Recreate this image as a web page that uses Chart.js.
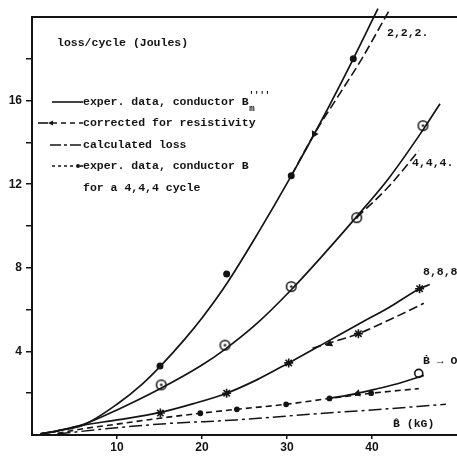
<!DOCTYPE html>
<html><head><meta charset="utf-8">
<script src="https://cdn.jsdelivr.net/npm/chart.js@4/dist/chart.umd.min.js"></script>
<style>html,body{margin:0;padding:0;background:#fff;}#wrap{width:457px;height:456px;}</style>
</head><body><div id="wrap"><canvas id="c" width="457" height="456"></canvas></div>
<script>
// ---- axis ticks ----
const xTickLabels = [10, 20, 30, 40];
const yTickLabels = [4, 8, 12, 16];
// ---- 2,2,2 cycle ----
const c222X = [1, 3, 6, 10, 13, 15, 18, 20, 23, 26.5, 30.5, 34, 37.8, 40.7];
const c222Y = [0.05, 0.2, 0.47, 1.47, 2.45, 3.25, 4.6, 5.6, 7.3, 9.6, 12.4, 15.0, 18.0, 20.4];
const c222PtsX = [15.06, 22.9, 30.5, 37.8];
const c222PtsY = [3.3, 7.7, 12.4, 18.0];
const c222CorrX = [30.5, 33.2, 36, 38.8, 42];
const c222CorrY = [12.4, 14.4, 16.2, 18.0, 20.3];
// ---- 4,4,4 cycle ----
const c444X = [1, 3, 6, 10, 15, 20, 22.7, 26.5, 30.5, 34, 38.2, 42, 46, 48];
const c444Y = [0.05, 0.2, 0.5, 1.2, 2.2, 3.35, 4.1, 5.35, 6.95, 8.5, 10.45, 12.3, 14.6, 15.85];
const c444PtsX = [15.2, 22.7, 30.5, 38.2, 46];
const c444PtsY = [2.4, 4.3, 7.1, 10.4, 14.8];
const c444CorrX = [38.2, 42, 45.5];
const c444CorrY = [10.4, 11.9, 13.6];
// ---- 8,8,8 cycle ----
const c888X = [1, 3, 6, 10, 15.1, 19, 22.9, 26.5, 30.2, 34, 38.4, 42, 45.6, 46.8];
const c888Y = [0.05, 0.2, 0.47, 0.72, 1.08, 1.5, 2.0, 2.65, 3.45, 4.3, 5.3, 6.1, 7.0, 7.2];
const c888PtsX = [15.1, 22.9, 30.2, 38.4, 45.6];
const c888PtsY = [1.05, 2.0, 3.45, 4.85, 7.0];
const c888CorrX = [33, 35, 38.4, 42, 46.1];
const c888CorrY = [4.15, 4.4, 4.85, 5.5, 6.3];
// ---- exper. data, conductor B, 4,4,4 cycle ----
const expBX = [3, 6, 10, 15, 19.8, 24.1, 29.9, 35, 40, 45.5];
const expBY = [0.08, 0.3, 0.52, 0.8, 1.04, 1.23, 1.47, 1.75, 2.0, 2.22];
const expBPtsX = [19.8, 24.1, 29.9, 35, 39.9];
const expBPtsY = [1.04, 1.23, 1.47, 1.75, 2.0];
// ---- B-dot -> 0 ----
const bdotX = [35, 38, 40.5, 43, 46.1];
const bdotY = [1.75, 1.97, 2.2, 2.45, 2.85];
const bdotPtX = [45.5];
const bdotPtY = [2.95];
// ---- calculated loss ----
const calcX = [3, 10, 16, 24, 33, 40, 48.7];
const calcY = [0.05, 0.35, 0.55, 0.72, 1.0, 1.2, 1.47];
// ---- "corrected" arrow marks ----
const arrowX = [33.2, 35, 38.3];
const arrowY = [14.4, 4.36, 1.99];
// ---- texts ----
const yTitle = 'loss/cycle (Joules)';
const xTitle = 'B\u0302 (kG)';
const legendTexts = ['exper. data, conductor B', 'corrected for resistivity', 'calculated loss', 'exper. data, conductor B', 'for a 4,4,4 cycle'];
const curveLabels = ['2,2,2.', '4,4,4.', '8,8,8', 'B\u0307 \u2192 O'];

const pts = (xs, ys) => xs.map((x, i) => ({x: x, y: ys[i]}));
const INK = '#141414';
const MONO = 'bold 11.5px "Liberation Mono", "DejaVu Sans Mono", monospace';

// circled-dot marker
const odot = document.createElement('canvas');
odot.width = 13; odot.height = 13;
(function(){ const g = odot.getContext('2d'); g.strokeStyle = INK; g.fillStyle = INK; g.lineWidth = 1.5;
  g.beginPath(); g.arc(6.5, 6.5, 4.8, 0, Math.PI*2); g.stroke();
  g.beginPath(); g.arc(6.5, 6.5, 1.3, 0, Math.PI*2); g.fill(); })();

const solid = (data) => ({data, borderColor: INK, borderWidth: 1.7, pointRadius: 0, cubicInterpolationMode: 'monotone', clip: false, fill: false});
const dashed = (data, dash, w) => ({data, borderColor: INK, borderWidth: w || 1.6, borderDash: dash, pointRadius: 0, cubicInterpolationMode: 'monotone', clip: false, fill: false});
const marks = (data, extra) => Object.assign({data, showLine: false, borderColor: INK, backgroundColor: INK, pointBorderWidth: 1.4, clip: false}, extra);

const annot = {
  id: 'annot',
  afterDraw(chart) {
    const ctx = chart.ctx, a = chart.chartArea;
    ctx.save();
    ctx.strokeStyle = INK; ctx.fillStyle = INK;
    // top frame line
    ctx.lineWidth = 2;
    ctx.beginPath(); ctx.moveTo(a.left, a.top); ctx.lineTo(a.right, a.top); ctx.stroke();
    ctx.font = MONO; ctx.textBaseline = 'middle'; ctx.textAlign = 'left';
    ctx.fillText(yTitle, 57, 43);
    // legend samples
    ctx.lineWidth = 1.6;
    const seg = (x1, x2, y, dash) => { ctx.setLineDash(dash || []); ctx.beginPath(); ctx.moveTo(x1, y); ctx.lineTo(x2, y); ctx.stroke(); ctx.setLineDash([]); };
    seg(52, 83, 102);
    seg(38, 48, 123); seg(52, 83, 123, [5, 4]);
    ctx.beginPath(); ctx.moveTo(48, 123); ctx.lineTo(53, 120.5); ctx.lineTo(53, 125.5); ctx.closePath(); ctx.fill();
    seg(50, 83, 145, [11, 3, 3, 3]);
    seg(52, 76, 166, [3, 3]); seg(80, 83, 166);
    ctx.beginPath(); ctx.arc(78, 166, 2, 0, Math.PI*2); ctx.fill();
    // legend texts
    const tx = 83;
    ctx.fillText(legendTexts[0], tx, 102);
    const w0 = ctx.measureText(legendTexts[0]).width;
    ctx.fillText(legendTexts[1], tx, 123);
    ctx.fillText(legendTexts[2], tx, 145);
    ctx.fillText(legendTexts[3], tx, 166);
    ctx.fillText(legendTexts[4], tx, 188);
    ctx.font = 'bold 9px "Liberation Mono", "DejaVu Sans Mono", monospace';
    ctx.fillText('m', tx + w0 + 0.5, 109);
    ctx.fillText("''''", tx + w0, 96);
    // curve labels
    ctx.font = MONO;
    ctx.fillText(curveLabels[0], 387, 33);
    ctx.fillText(curveLabels[1], 412, 163);
    ctx.fillText(curveLabels[2], 423, 272);
    ctx.fillText(curveLabels[3], 423, 361);
    ctx.fillText(xTitle, 393, 424);
    ctx.restore();
  }
};

new Chart(document.getElementById('c'), {
  type: 'line',
  data: {
    datasets: [
      solid(pts(c222X, c222Y)),
      dashed(pts(c222CorrX, c222CorrY), [9, 4]),
      marks(pts(c222PtsX, c222PtsY), {pointStyle: 'circle', pointRadius: 2.8}),
      solid(pts(c444X, c444Y)),
      dashed(pts(c444CorrX, c444CorrY), [9, 4]),
      marks(pts(c444PtsX, c444PtsY), {pointStyle: odot, pointRadius: 6}),
      solid(pts(c888X, c888Y)),
      dashed(pts(c888CorrX, c888CorrY), [9, 4]),
      marks(pts(c888PtsX, c888PtsY), {pointStyle: 'star', pointRadius: 4.5, pointBorderWidth: 1.6}),
      dashed(pts(expBX, expBY), [6, 4]),
      marks(pts(expBPtsX, expBPtsY), {pointStyle: 'circle', pointRadius: 2.2}),
      solid(pts(bdotX, bdotY)),
      marks(pts(bdotPtX, bdotPtY), {pointStyle: 'circle', pointRadius: 4, backgroundColor: '#fff', pointBorderWidth: 1.6}),
      dashed(pts(calcX, calcY), [13, 4, 3, 4], 1.5),
      marks(pts(arrowX, arrowY), {pointStyle: 'triangle', pointRadius: 3, pointRotation: [208, 244, 255]})
    ]
  },
  options: {
    responsive: false,
    devicePixelRatio: 1,
    animation: false,
    layout: {autoPadding: false, padding: {top: 17, right: 0, left: 0, bottom: 0}},
    plugins: {legend: {display: false}, tooltip: {enabled: false}},
    scales: {
      x: {
        type: 'linear', min: 0, max: 50,
        afterFit(s) { s.height = 21; s.paddingLeft = 0; s.paddingRight = 0; },
        ticks: {stepSize: 10, autoSkip: false, maxRotation: 0, padding: 1, color: INK,
          font: {family: '"Liberation Sans", Arial, sans-serif', size: 12, weight: 'bold'},
          callback: v => xTickLabels.includes(v) ? String(v) : ''},
        grid: {drawOnChartArea: false, drawTicks: true, tickLength: 4, lineWidth: 1.5,
          color: c => (c.tick && xTickLabels.includes(c.tick.value)) ? INK : 'rgba(0,0,0,0)'},
        border: {display: true, color: INK, width: 2}
      },
      y: {
        type: 'linear', min: 0, max: 20,
        afterFit(s) { s.width = 32; s.paddingTop = 0; s.paddingBottom = 0; },
        ticks: {stepSize: 2, autoSkip: false, padding: 4, color: INK,
          font: {family: '"Liberation Sans", Arial, sans-serif', size: 12, weight: 'bold'},
          callback: v => yTickLabels.includes(v) ? String(v) : ''},
        grid: {drawOnChartArea: false, drawTicks: true, tickLength: 6, lineWidth: 1.5,
          color: c => (c.tick && c.tick.value > 0 && c.tick.value < 20) ? INK : 'rgba(0,0,0,0)'},
        border: {display: true, color: INK, width: 2}
      }
    }
  },
  plugins: [annot]
});
</script>
</body></html>
